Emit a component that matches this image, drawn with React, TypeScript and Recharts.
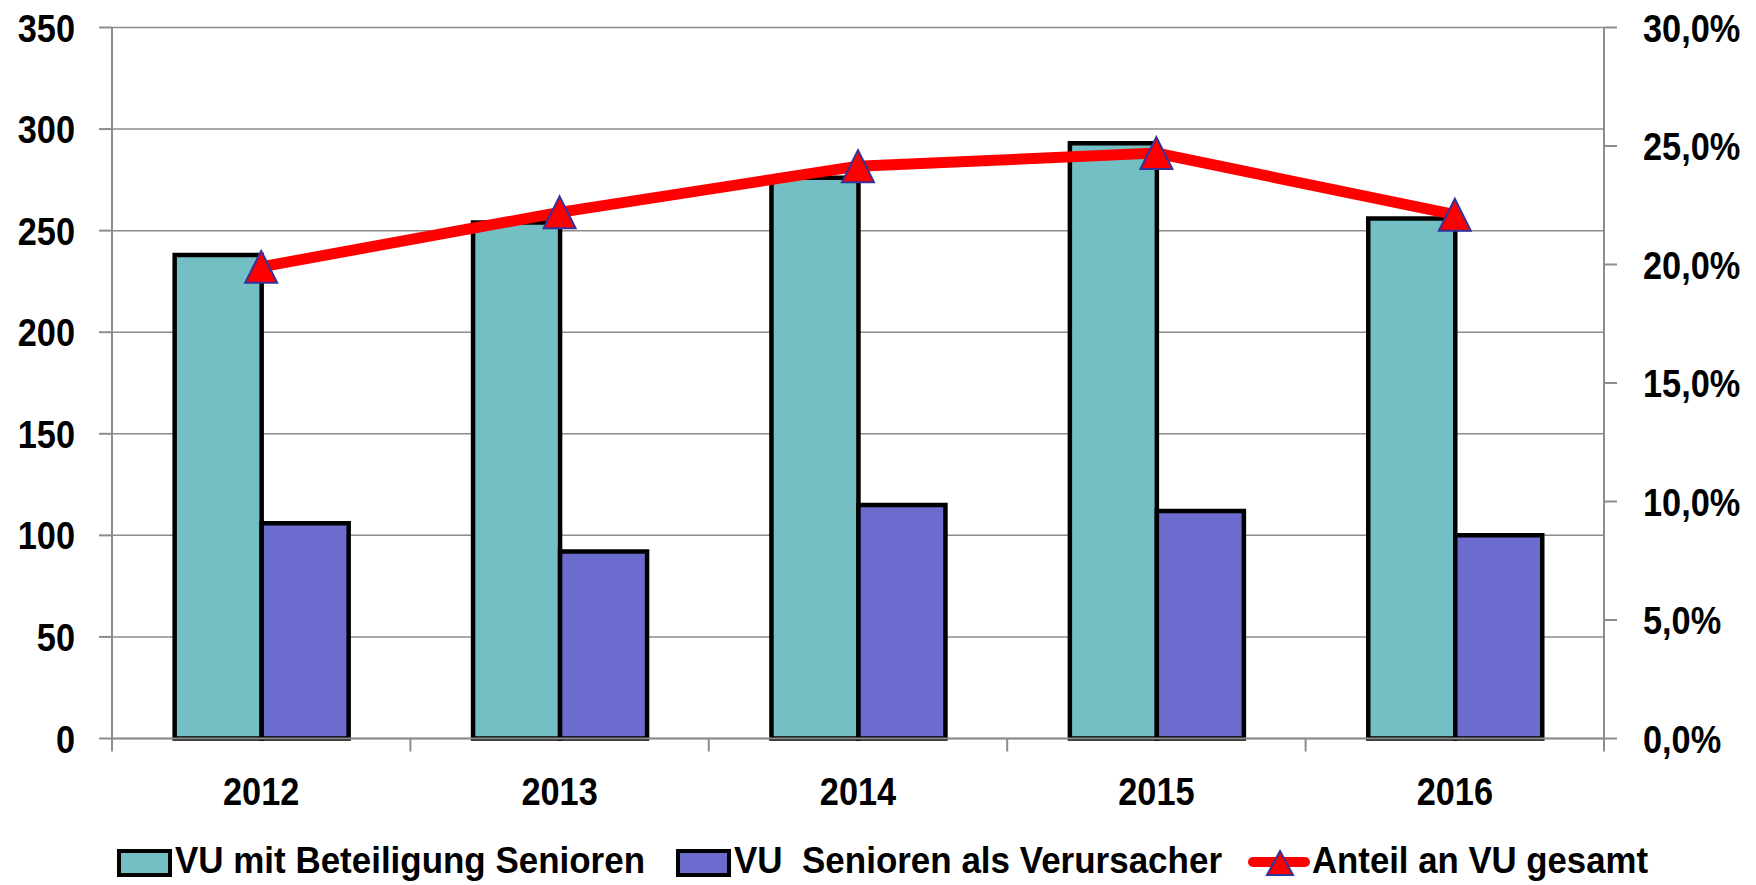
import React from 'react';
import { ComposedChart, Bar, Line, XAxis, YAxis, CartesianGrid, Legend } from 'recharts';

const years = ['2012', '2013', '2014', '2015', '2016'];
const beteiligung = [238, 254, 276, 293, 256];
const verursacher = [106, 92, 115, 112, 100];
const anteil = [0.199, 0.222, 0.2415, 0.247, 0.221];
const leftTicks = [0, 50, 100, 150, 200, 250, 300, 350];
const rightTicks = [0, 0.05, 0.1, 0.15, 0.2, 0.25, 0.3];
const seriesNames = ['VU mit Beteiligung Senioren', 'VU  Senioren als Verursacher', 'Anteil an VU gesamt'];

const TEAL = '#73BFC4';
const PURPLE = '#6C6CCE';
const RED = '#FF0000';
const MARKER_EDGE = '#333399';
const GRID = '#8C8C8C';
const FONT = "'Liberation Sans Narrow','Arial Narrow','Liberation Sans',Arial,sans-serif";
const NARROW = 0.88;
const TICK_SIZE = 39;

const data = years.map((y, i) => ({
  year: y,
  beteiligung: beteiligung[i],
  verursacher: verursacher[i],
  anteil: anteil[i],
}));

const W = 1756;
const H = 885;
const PLOT_LEFT = 112;
const PLOT_RIGHT = 1604;

const fmtPct = (v: number) => (v * 100).toFixed(1).replace('.', ',') + '%';

const NarrowText = ({ x, y, anchor, size, children }: any) => (
  <g transform={`translate(${x},${y}) scale(${NARROW},1)`}>
    <text x={0} y={0} textAnchor={anchor} fontFamily={FONT} fontWeight="bold" fontSize={size} fill="#000">
      {children}
    </text>
  </g>
);

const LeftTick = (props: any) => {
  const { x, y, payload } = props;
  return <NarrowText x={x} y={y + 14} anchor="end" size={TICK_SIZE}>{payload.value}</NarrowText>;
};

const RightTick = (props: any) => {
  const { x, y, payload } = props;
  return <NarrowText x={x} y={y + 14} anchor="start" size={TICK_SIZE}>{fmtPct(payload.value)}</NarrowText>;
};

const XTick = (props: any) => {
  const { x, y, payload, index, visibleTicksCount } = props;
  const half = payload && payload.offset ? payload.offset : (PLOT_RIGHT - PLOT_LEFT) / years.length / 2;
  const isLast = index === (visibleTicksCount ?? years.length) - 1;
  return (
    <g>
      <line x1={x - half} x2={x - half} y1={y} y2={y + 13} stroke={GRID} strokeWidth={2} />
      {isLast && <line x1={x + half} x2={x + half} y1={y} y2={y + 13} stroke={GRID} strokeWidth={2} />}
      <NarrowText x={x} y={y + 66} anchor="middle" size={TICK_SIZE}>{payload.value}</NarrowText>
    </g>
  );
};

const Triangle = (props: any) => {
  const { cx, cy } = props;
  if (cx == null || cy == null) return null;
  return (
    <path
      d={`M${cx},${cy - 16}L${cx + 16},${cy + 16}L${cx - 16},${cy + 16}Z`}
      fill={RED}
      stroke={MARKER_EDGE}
      strokeWidth={2}
    />
  );
};

// legend layout (icon left edge, text left edge, text width)
const legendIconX = [119, 678, 1248];
const legendTextX = [175, 734, 1312];
const legendTextW = [470, 488, 336];

const LegendContent = () => {
  const textProps = {
    fontFamily: FONT,
    fontWeight: 'bold' as const,
    fontSize: 37,
    fill: '#000',
    lengthAdjust: 'spacingAndGlyphs' as const,
    style: { whiteSpace: 'pre' as const },
  };
  return (
    <svg width={W} height={45} style={{ display: 'block' }}>
      <rect x={legendIconX[0]} y={11} width={51} height={24} fill={TEAL} stroke="#000" strokeWidth={4} />
      <text x={legendTextX[0]} y={33} textLength={legendTextW[0]} {...textProps}>{seriesNames[0]}</text>
      <rect x={legendIconX[1]} y={11} width={51} height={24} fill={PURPLE} stroke="#000" strokeWidth={4} />
      <text x={legendTextX[1]} y={33} textLength={legendTextW[1]} {...textProps} xmlSpace="preserve">{seriesNames[1]}</text>
      <line x1={legendIconX[2] + 5} x2={legendIconX[2] + 57} y1={22} y2={22} stroke={RED} strokeWidth={10} strokeLinecap="round" />
      <path
        d={`M${legendIconX[2] + 32},11L${legendIconX[2] + 45},35L${legendIconX[2] + 19},35Z`}
        fill={RED}
        stroke={MARKER_EDGE}
        strokeWidth={2}
      />
      <text x={legendTextX[2]} y={33} textLength={legendTextW[2]} {...textProps}>{seriesNames[2]}</text>
    </svg>
  );
};

export default function App() {
  return (
    <div style={{ position: 'absolute', left: 0, top: 0, width: W, height: H, background: '#fff' }}>
      <ComposedChart
        width={W}
        height={H}
        data={data}
        margin={{ top: 27.5, right: 0, left: 0, bottom: 0 }}
        barCategoryGap="21%"
        barGap={0}
      >
        <CartesianGrid yAxisId="left" vertical={false} stroke={GRID} strokeWidth={1.5} />
        <XAxis
          dataKey="year"
          height={101.5}
          tickLine={false}
          tickSize={0}
          tickMargin={0}
          axisLine={{ stroke: GRID, strokeWidth: 2 }}
          tick={<XTick />}
          interval={0}
        />
        <YAxis
          yAxisId="left"
          orientation="left"
          width={112}
          domain={[0, 350]}
          ticks={leftTicks}
          interval={0}
          tickSize={13}
          tickMargin={24}
          axisLine={{ stroke: GRID, strokeWidth: 2 }}
          tickLine={{ stroke: GRID, strokeWidth: 2 }}
          tick={<LeftTick />}
        />
        <YAxis
          yAxisId="right"
          orientation="right"
          width={152}
          domain={[0, 0.3]}
          ticks={rightTicks}
          interval={0}
          tickSize={13}
          tickMargin={26}
          axisLine={{ stroke: GRID, strokeWidth: 2 }}
          tickLine={{ stroke: GRID, strokeWidth: 2 }}
          tick={<RightTick />}
        />
        <Legend
          verticalAlign="bottom"
          content={<LegendContent />}
          wrapperStyle={{ position: 'absolute', left: 0, top: 840, width: W, height: 45 }}
        />
        <Bar
          yAxisId="left"
          dataKey="beteiligung"
          name={seriesNames[0]}
          fill={TEAL}
          stroke="#000"
          strokeWidth={4.5}
          isAnimationActive={false}
        />
        <Bar
          yAxisId="left"
          dataKey="verursacher"
          name={seriesNames[1]}
          fill={PURPLE}
          stroke="#000"
          strokeWidth={4.5}
          isAnimationActive={false}
        />
        <Line
          yAxisId="right"
          type="linear"
          dataKey="anteil"
          name={seriesNames[2]}
          stroke={RED}
          strokeWidth={11}
          dot={<Triangle />}
          activeDot={false}
          isAnimationActive={false}
        />
      </ComposedChart>
    </div>
  );
}
